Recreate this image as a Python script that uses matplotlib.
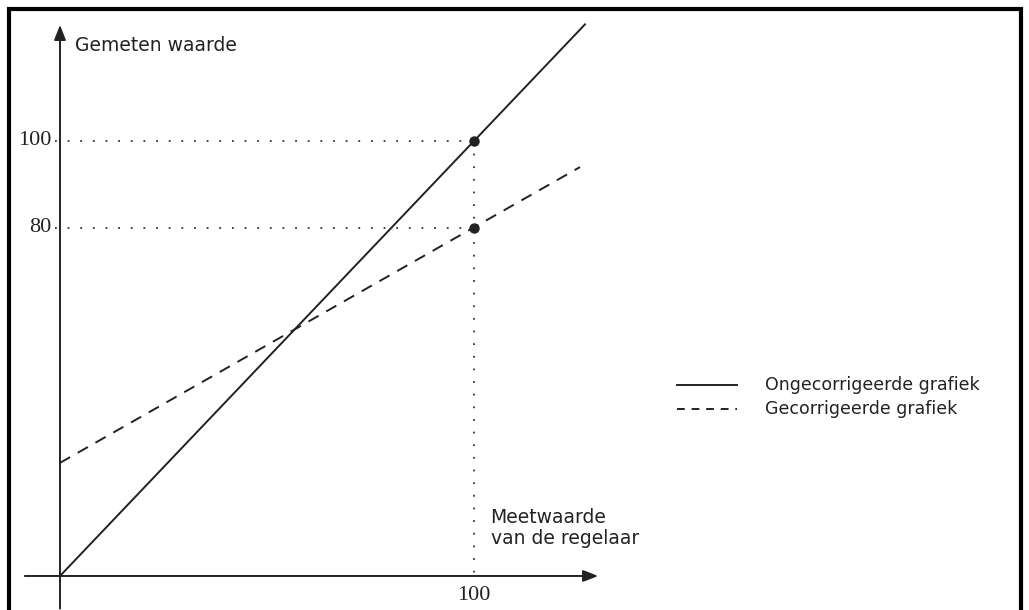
import matplotlib.pyplot as plt
from matplotlib.patches import Rectangle

# meetwaarde van de regelaar (x) en gemeten waarde (y)
x_uncorr = [0, 126.8]
y_uncorr = [0, 126.8]
x_corr = [0, 125.6]
y_corr = [26, 94.0]
marker_x = [100, 100]
marker_y = [100, 80]
ytick_vals = [100, 80]
xtick_vals = [100]

fig = plt.figure(figsize=(10.29, 6.10), dpi=100)
ax = fig.add_axes([0, 0, 1, 1])
ax.set_xlim(-14.49, 234.06)
ax.set_ylim(-7.82, 132.41)
ax.axis('off')

# frame around the picture (bottom edge falls outside)
ax.add_patch(Rectangle((0.009, -0.1), 0.983, 1.085, transform=ax.transAxes,
                       fill=False, lw=3, color='black', clip_on=False))

# axes with arrow heads
arrow = dict(arrowstyle='-|>,head_length=0.9,head_width=0.35', color='#222222', lw=1.4,
             shrinkA=0, shrinkB=0)
ax.annotate('', xy=(0, 126.7), xytext=(0, -7.5), arrowprops=arrow)
ax.annotate('', xy=(130, 0), xytext=(-8.5, 0), arrowprops=arrow)

# dotted helper lines
for v in ytick_vals:
    ax.plot([-1.2, 100], [v, v], ls=(0, (1, 6)), color='#333333', lw=1.3)
ax.plot([100, 100], [100, 0], ls=(0, (1, 6)), color='#333333', lw=1.3)

ax.plot(x_uncorr, y_uncorr, color='#222222', lw=1.4)
ax.plot(x_corr, y_corr, color='#222222', lw=1.4, ls=(0, (6, 4.5)))
ax.plot(marker_x, marker_y, 'o', color='#222222', ms=6.5)

for v in ytick_vals:
    ax.text(-2.0, v, str(v), ha='right', va='center', fontsize=16,
            family='Liberation Serif', color='#222222')
for v in xtick_vals:
    ax.text(v, -4.4, str(v), ha='center', va='center', fontsize=16,
            family='Liberation Serif', color='#222222')

ax.text(3.6, 122, 'Gemeten waarde', ha='left', va='center', fontsize=13.5, color='#222222')
ax.text(104, 11, 'Meetwaarde\nvan de regelaar', ha='left', va='center', fontsize=13.5,
        color='#222222', linespacing=1.15)

# legend
ax.plot([149, 163.5], [44, 44], color='#222222', lw=1.4)
ax.plot([149, 163.5], [38.5, 38.5], color='#222222', lw=1.4, ls=(0, (4, 3.5)))
ax.text(170.3, 44, 'Ongecorrigeerde grafiek', ha='left', va='center', fontsize=12.5, color='#222222')
ax.text(170.3, 38.5, 'Gecorrigeerde grafiek', ha='left', va='center', fontsize=12.5, color='#222222')

fig.savefig('out.png', dpi=100)
